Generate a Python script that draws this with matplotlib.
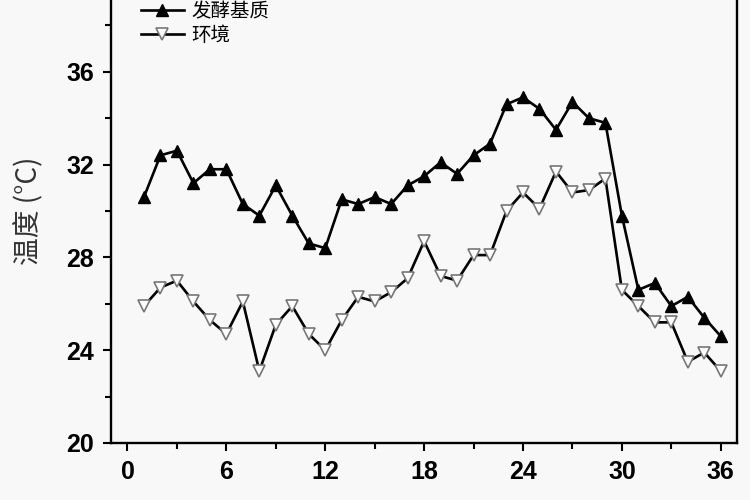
import numpy as np
import matplotlib
matplotlib.use("Agg")
import matplotlib.pyplot as plt
from matplotlib.ticker import MultipleLocator

# days and temperatures
days = list(range(1, 37))
substrate = [30.6, 32.4, 32.6, 31.2, 31.8, 31.8, 30.3, 29.8, 31.1, 29.8,
             28.6, 28.4, 30.5, 30.3, 30.6, 30.3, 31.1, 31.5, 32.1, 31.6,
             32.4, 32.9, 34.6, 34.9, 34.4, 33.5, 34.7, 34.0, 33.8, 29.8,
             26.6, 26.9, 25.9, 26.3, 25.4, 24.6]
ambient = [25.9, 26.7, 27.0, 26.1, 25.3, 24.7, 26.1, 23.1, 25.1, 25.9,
           24.7, 24.0, 25.3, 26.3, 26.1, 26.5, 27.1, 28.7, 27.2, 27.0,
           28.1, 28.1, 30.0, 30.8, 30.1, 31.7, 30.8, 30.9, 31.4, 26.6,
           25.9, 25.2, 25.2, 23.5, 23.9, 23.1]
labels = ["发酵基质", "环境"]
xticks = [0, 6, 12, 18, 24, 30, 36]
yticks = [20, 24, 28, 32, 36]

bg = "#f8f8f8"
fig = plt.figure(figsize=(7.5, 5), dpi=100, facecolor=bg)
ax = fig.add_axes([0.148, 0.114, 0.835, 0.928])
ax.set_facecolor(bg)

ax.plot(days, substrate, color="black", lw=1.9, marker="^", ms=9,
        mfc="black", mec="black", label=labels[0])
ax.plot(days, ambient, color="black", lw=1.9, marker="v", ms=9,
        mfc="white", mec="#777777", mew=1.2, label=labels[1])

ax.set_xlim(-1, 37)
ax.set_ylim(20, 40)
ax.set_xticks(xticks)
ax.set_yticks(yticks)
ax.xaxis.set_minor_locator(MultipleLocator(3))
ax.yaxis.set_minor_locator(MultipleLocator(2))
ax.tick_params(which="major", direction="out", length=6, width=1.5, pad=6)
ax.tick_params(which="minor", direction="out", length=4, width=1.5)
ax.tick_params(top=False, right=False, which="both")
for lab in ax.get_xticklabels() + ax.get_yticklabels():
    lab.set_family("Liberation Sans")
    lab.set_fontweight("bold")
    lab.set_fontsize(18)
for s in ax.spines.values():
    s.set_linewidth(1.7)

ax.set_ylabel("温度 (°C)", family=["Noto Sans CJK SC", "DejaVu Sans"],
              fontsize=20, color="#333333", labelpad=16)

leg = ax.legend(loc="upper left", bbox_to_anchor=(0.02, 0.99), frameon=False,
                prop={"family": ["Noto Sans CJK SC", "DejaVu Sans"], "size": 14},
                handlelength=2.2, handletextpad=0.4, labelspacing=0.15)

fig.savefig("out.png", dpi=100, facecolor=bg)
